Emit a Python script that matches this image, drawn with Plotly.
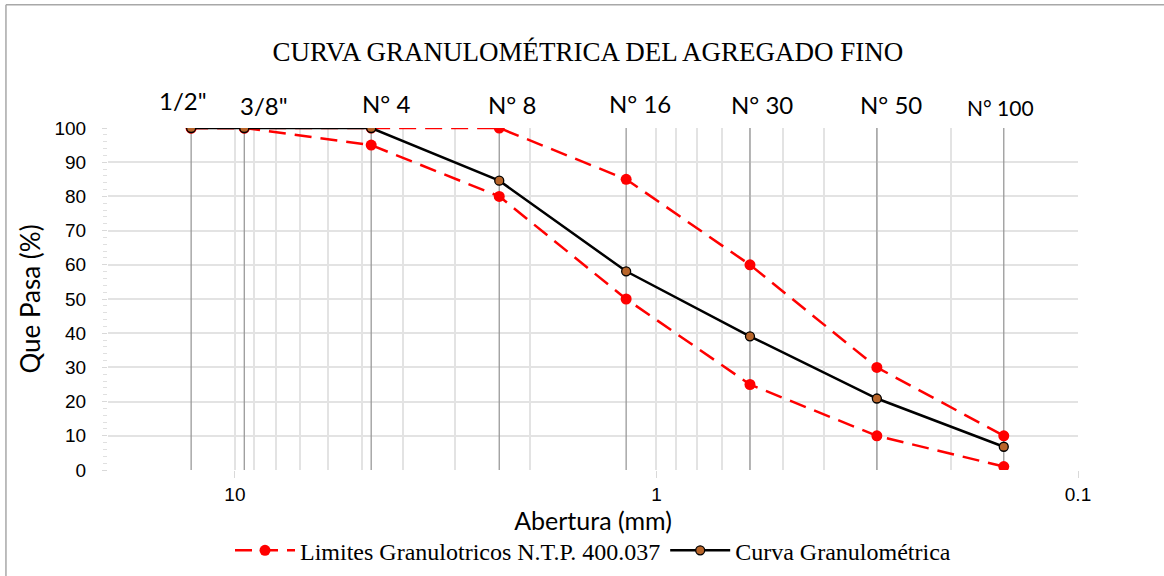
import math
import plotly.graph_objects as go

# ---- data ----
sieve_names = ['1/2"', '3/8"', "N° 4", "N° 8", "N° 16", "N° 30", "N° 50", "N° 100"]
sieve_mm = [12.7, 9.5, 4.75, 2.36, 1.18, 0.6, 0.3, 0.15]
curva = [100, 100, 100, 84.6, 58.1, 39.1, 20.9, 6.8]
lim_sup = [100, 100, 100, 100, 85, 60, 30, 10]
lim_inf = [100, 100, 95, 80, 50, 25, 10, 1]
x_tick_vals = [10, 1, 0.1]
x_tick_text = ["10", "1", "0.1"]

# ---- style ----
label_xshift = [-8, 20, 15, 13, 14, 12, 14, -3]
label_yshift = [28, 23, 25, 24, 24.5, 24, 24, 21]
label_size = [24, 24, 24, 24, 24, 24, 24, 21]
RED = "#FF0000"
BROWN = "#B8652A"
GRID = "#e3e3e3"
DASH = "17px,9px"
SANS = "Liberation Sans, Arial, sans-serif"
CAL = "Lato, Open Sans, sans-serif"
SERIF = "Liberation Serif, Times New Roman, serif"

fig = go.Figure()

# sieve drop lines
vx, vy = [], []
for s in sieve_mm:
    vx += [s, s, None]
    vy += [0, 100, None]
fig.add_trace(go.Scatter(x=vx, y=vy, mode="lines", line=dict(color="#9a9a9a", width=1.3),
                         showlegend=False, hoverinfo="skip"))

lim_name = "Limites Granulotricos N.T.P. 400.037"
fig.add_trace(go.Scatter(x=sieve_mm, y=lim_sup, mode="lines+markers", name=lim_name,
                         legendgroup="lim",
                         line=dict(color=RED, width=2.5, dash=DASH),
                         marker=dict(color=RED, size=11, symbol="circle")))
fig.add_trace(go.Scatter(x=sieve_mm, y=lim_inf, mode="lines+markers", name=lim_name,
                         legendgroup="lim", showlegend=False,
                         line=dict(color=RED, width=2.5, dash=DASH),
                         marker=dict(color=RED, size=11, symbol="circle")))
fig.add_trace(go.Scatter(x=sieve_mm, y=curva, mode="lines+markers", name="Curva Granulométrica",
                         line=dict(color="black", width=2.5),
                         marker=dict(color=BROWN, size=9, symbol="circle",
                                     line=dict(color="black", width=1.3))))

# sieve labels on top (annotation x on a log axis is given in log10 units)
for name, s, dx, dy, fs in zip(sieve_names, sieve_mm, label_xshift, label_yshift, label_size):
    fig.add_annotation(x=math.log10(s), y=100, xref="x", yref="y", text=name, showarrow=False,
                       xshift=dx, yshift=dy, yanchor="middle", xanchor="center",
                       font=dict(family=CAL, size=fs, color="black"))

minor_vals = []
for k in (-1, 0, 1):
    for d in range(2, 10):
        minor_vals.append(d * 10 ** k)

fig.update_xaxes(type="log", range=[1.30103, -1], tickmode="array",
                 tickvals=x_tick_vals, ticktext=x_tick_text, automargin=False,
                 showgrid=True, gridcolor=GRID, gridwidth=2,
                 ticks="outside", ticklen=7, tickcolor="#d9d9d9", tickwidth=1,
                 ticklabelstandoff=0,
                 minor=dict(tickmode="array", tickvals=minor_vals, showgrid=True,
                            gridcolor=GRID, gridwidth=2, ticks=""),
                 zeroline=False, showline=False,
                 tickfont=dict(family=SANS, size=19, color="black"),
                 title=dict(text="Abertura (mm)", font=dict(family=CAL, size=25, color="black"),
                            standoff=2))
fig.update_yaxes(range=[0, 100], dtick=10, showgrid=True, gridcolor=GRID, gridwidth=2,
                 automargin=False,
                 ticks="outside", ticklen=5, tickcolor="#d9d9d9",
                 minor=dict(dtick=2, ticks="outside", ticklen=4, tickcolor="#e0e0e0", showgrid=False),
                 zeroline=False, showline=False, ticklabelstandoff=12,
                 tickfont=dict(family=SANS, size=19, color="black"),
                 title=dict(text="Que Pasa (%)", font=dict(family=CAL, size=26, color="black"),
                            standoff=6))

# frame (top and left edges)
fig.add_shape(type="line", xref="paper", yref="paper", x0=-0.1052, x1=1.2, y0=1.3602, y1=1.3602,
              line=dict(color="#a8a8a8", width=1.5))
fig.add_shape(type="line", xref="paper", yref="paper", x0=-0.1052, x1=-0.1052, y0=1.3602, y1=-0.4,
              line=dict(color="#a8a8a8", width=1.5))

fig.update_layout(
    width=1164, height=576,
    margin=dict(l=108, r=86, t=128, b=106, pad=0, autoexpand=False),
    paper_bgcolor="white", plot_bgcolor="white",
    title=dict(text="CURVA GRANULOMÉTRICA DEL AGREGADO FINO", x=0.505, xanchor="center",
               y=1 - 52 / 576, yanchor="middle", yref="container",
               font=dict(family=SERIF, size=27, color="black")),
    legend=dict(orientation="h", x=0.5, xanchor="center", y=-0.236, yanchor="middle",
                font=dict(family=SERIF, size=24, color="black"), itemwidth=60,
                bgcolor="rgba(0,0,0,0)"),
    showlegend=True,
)

fig.write_html("out.html")
